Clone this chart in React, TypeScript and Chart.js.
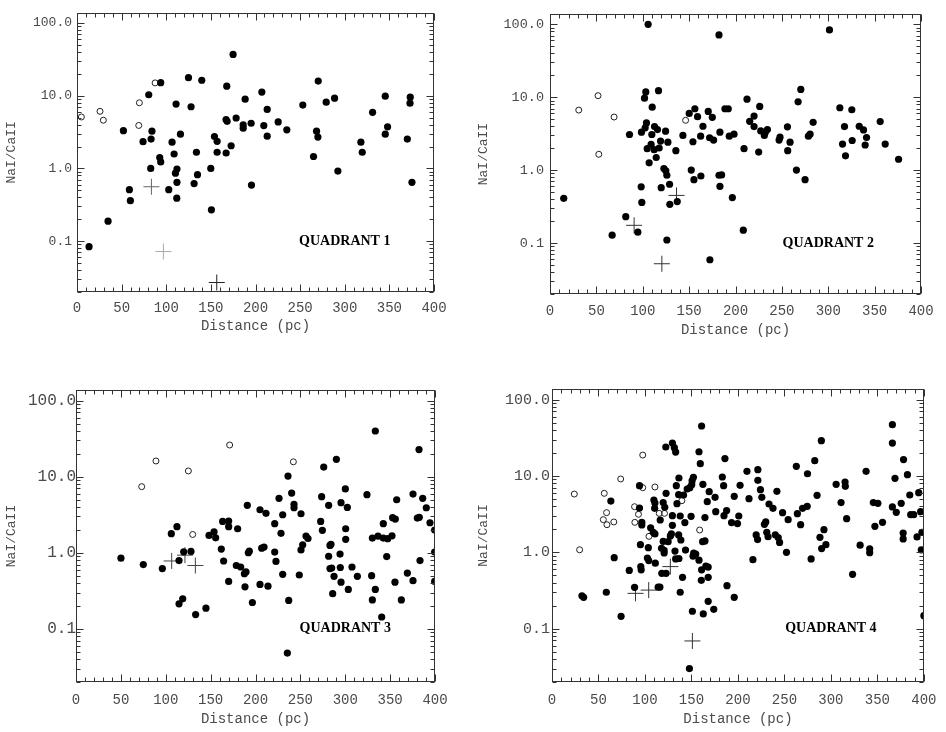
import React, { useEffect, useRef } from 'react';
import { Chart, registerables } from 'chart.js';
Chart.register(...registerables);

type Pt = [number, number];

// ---- Quadrant 1 ----
const q1Filled: Pt[] = [
  [13.5, 0.084], [34.8, 0.188], [52, 3.3], [58.7, 0.51], [59.8, 0.36], [74, 2.33], [80.4, 10.3], [83, 2.53], [84, 3.25], [82.6, 1.0],
  [93.8, 15.1], [92.7, 1.41], [93.8, 1.23], [106.5, 2.3], [108.8, 1.58], [111, 7.66], [110.3, 0.86], [112, 0.98], [112, 0.645], [111.8, 0.39],
  [102.8, 0.51], [115.9, 2.96], [124.9, 17.7], [127.8, 7.05], [131.2, 0.62], [133.8, 1.67], [135, 0.82], [139.8, 16.3], [149.9, 1.0], [150.6, 0.27],
  [154, 2.75], [157, 2.36], [157, 1.67], [167.1, 1.63], [167.8, 13.5], [167, 4.7], [168.2, 4.45], [172.7, 2.05], [174.9, 37], [178.3, 4.94],
  [186.2, 3.97], [186.2, 3.58], [188.4, 8.96], [195.1, 4.18], [195.5, 0.59], [207.1, 11.2], [209.3, 3.89], [213.1, 6.48], [213.1, 2.78], [225.4, 4.36],
  [235.1, 3.4], [253, 7.43], [265, 1.46], [268.4, 3.25], [269.9, 2.7], [270.3, 15.9], [279.2, 8.16], [288.6, 9.25], [292.3, 0.92], [318.1, 2.3],
  [319.6, 1.67], [331.2, 5.9], [345.4, 2.96], [345.4, 9.85], [348, 3.73], [370.1, 2.53], [373.4, 9.55], [373.1, 7.9], [375.3, 0.645],
];
const q1Open: Pt[] = [[4.9, 5.1], [25.8, 6.1], [29.5, 4.6], [69.9, 8.0], [69.2, 3.9], [87.5, 15.0]];
const q1Cross: Pt[] = [[83.4, 0.56], [96.8, 0.072], [156.6, 0.027]];

// ---- Quadrant 2 ----
const q2Filled: Pt[] = [
  [14.8, 0.41], [67, 0.128], [81.7, 0.23], [85.7, 3.08], [94.7, 0.141], [98.3, 0.59], [99, 0.36], [98.6, 3.31], [101.9, 9.7], [103.3, 11.8],
  [104, 4.44], [102.6, 3.8], [105.8, 100], [104.8, 1.97], [106.9, 1.26], [109, 2.25], [110.2, 7.3], [109.8, 3.08], [112.7, 3.96], [112.3, 1.91],
  [114.5, 1.49], [115.9, 3.6], [117, 12.3], [117.7, 2.01], [119.2, 2.5], [119.9, 0.575], [122.8, 1.05], [124.6, 3.42], [124.9, 0.98], [126, 0.85],
  [126, 0.11], [127.1, 2.42], [128.9, 0.64], [129.2, 0.34], [135.7, 1.85], [137.2, 0.37], [143.3, 2.99], [150.1, 6.0], [152.3, 1.0], [154.1, 2.45],
  [155.2, 0.74], [156.2, 6.95], [159.1, 5.41], [162.4, 2.92], [162.7, 0.83], [164.9, 4.0], [170.6, 6.39], [172.1, 2.78], [172.4, 0.059], [175, 5.3],
  [176.4, 2.58], [182.2, 71.6], [183.2, 3.31], [182.2, 0.85], [185, 0.86], [183.2, 0.6], [188.6, 6.95], [192.2, 6.95], [193.3, 2.92], [196.6, 0.42],
  [198.4, 3.11], [208.4, 0.15], [209.2, 1.97], [212.4, 9.4], [215.3, 4.67], [220, 5.52], [220, 3.96], [225, 1.77], [226.1, 7.47], [227.2, 3.45],
  [231.1, 2.99], [232.2, 3.31], [234.4, 3.6], [247, 2.58], [248, 2.83], [256, 3.92], [256.3, 1.85], [258.8, 2.42], [265.7, 1.0], [267.5, 8.64],
  [270.4, 12.8], [275, 0.74], [278.6, 2.92], [280.4, 3.11], [283.7, 4.53], [301.3, 83.8], [312.5, 7.17], [315.4, 2.28], [317.5, 3.96], [318.6, 1.57],
  [325.4, 6.73], [325.8, 2.55], [333.4, 4.0], [338, 3.56], [339.8, 2.21], [341.3, 2.8], [356, 4.63], [361.4, 2.28], [375.8, 1.41],
];
const q2Open: Pt[] = [[31, 6.66], [51.8, 10.5], [52.6, 1.65], [69.1, 5.35], [146.2, 4.82]];
const q2Cross: Pt[] = [[90.7, 0.175], [136.4, 0.45], [120.6, 0.052]];

// ---- Quadrant 3 ----
const q3Filled: Pt[] = [
  [50.1, 0.85], [75, 0.7], [96.2, 0.62], [106.2, 1.78], [112.5, 2.2], [114.8, 0.79], [114.8, 0.213], [118.9, 0.248], [120, 1.03], [128.1, 1.04],
  [133.3, 0.154], [144.8, 0.187], [148.2, 1.69], [153.8, 1.89], [155.6, 1.57], [161.9, 1.12], [163.4, 2.58], [164.5, 0.78], [170.1, 2.61], [170.1, 2.2],
  [170.1, 0.42], [180.1, 2.07], [178.6, 0.68], [183.5, 0.65], [187.6, 0.53], [189.4, 0.56], [188.3, 0.357], [190.9, 4.2], [192, 1.0], [193.1, 1.05],
  [196.5, 0.222], [205, 3.68], [205, 0.383], [206.9, 1.15], [209.5, 1.19], [211.7, 3.3], [213.9, 0.364], [221.4, 1.02], [221.4, 2.41], [222.8, 0.77],
  [226.2, 5.19], [228.4, 1.8], [230.3, 3.16], [230.3, 0.52], [236.2, 10.2], [237, 0.236], [235.5, 0.048], [240.3, 6.1], [242.9, 4.33], [242.9, 3.91],
  [250.7, 3.26], [250.7, 1.09], [248.8, 0.51], [252.6, 1.27], [256.3, 1.66], [258.5, 1.54], [272.6, 2.58], [273.7, 5.46], [274.5, 1.97], [276, 13.4],
  [281.5, 4.2], [281.5, 0.9], [283, 1.25], [284.1, 1.29], [283, 0.62], [284.9, 0.63], [286, 0.29], [287.5, 0.49], [290.1, 16.9], [294.2, 0.96],
  [294.5, 0.64], [295.3, 4.55], [295.3, 0.41], [300.1, 6.9], [300.5, 2.07], [300.5, 1.5], [302.3, 3.95], [303.4, 0.33], [307.5, 0.65], [313.5, 0.49],
  [324.2, 5.8], [329.4, 0.5], [330.2, 1.56], [330.2, 0.24], [333.5, 39.9], [333.5, 0.33], [336.5, 1.66], [340.6, 0.143], [342.4, 2.41], [342.4, 1.56],
  [346.2, 0.89], [347.3, 1.53], [352.1, 1.67], [352.8, 2.89], [355.8, 2.77], [355.4, 0.41], [357.3, 4.98], [362.5, 0.24], [369.2, 0.54], [375.5, 5.91],
  [375.5, 0.43], [380.3, 2.86], [382.2, 22.7], [382.5, 2.92], [383.3, 0.79], [386.3, 5.19], [390.3, 3.91], [394.4, 2.48], [399.6, 1.99], [399.6, 1.02],
  [399.6, 0.42],
];
const q3Open: Pt[] = [[73.2, 7.4], [89.1, 16.1], [125.2, 11.9], [130, 1.74], [171.2, 26.1], [242.2, 15.7]];
const q3Cross: Pt[] = [[106.6, 0.78], [121.4, 0.93], [133, 0.68]];

// ---- Quadrant 4 ----
const q4Filled: Pt[] = [
  [32.2, 0.27], [34, 0.257], [58.4, 0.3], [63.3, 4.7], [66.9, 0.85], [74.3, 0.145], [83.1, 0.58], [88.8, 0.348], [94.1, 7.47], [94.1, 3.81],
  [95.1, 1.26], [95.5, 0.65], [95.9, 0.59], [96.6, 2.47], [96.6, 2.28], [103.6, 1.15], [102.6, 0.84], [104, 0.78], [106.1, 2.1], [108.9, 1.83],
  [109.6, 4.85], [110.7, 4.43], [110.4, 3.77], [110.7, 1.74], [111.1, 0.72], [114.2, 0.35], [116, 0.35], [116.4, 2.65], [117.8, 1.13], [118.1, 0.53],
  [119.6, 4.48], [119.6, 1.39], [120.6, 1.06], [120.6, 0.98], [121.3, 3.89], [122.7, 5.93], [122.4, 24], [122.7, 0.53], [124.9, 1.38], [127.3, 1.64],
  [128.4, 1.74], [129.5, 27], [129.5, 3.02], [129.5, 2.26], [131.6, 23.5], [133, 20.6], [132.3, 1.04], [133.7, 7.47], [133, 0.82], [134.4, 4.34],
  [136.5, 9.42], [136.2, 5.7], [136.2, 1.69], [136.5, 0.83], [137.9, 2.99], [137.9, 0.3], [138.6, 1.45], [140.4, 0.47], [141.5, 5.64], [142.9, 2.45],
  [143.6, 1.07], [145.4, 6.76], [148.2, 7.03], [149.6, 2.96], [150.3, 7.7], [150.7, 8.69], [152.1, 9.6], [151, 0.169], [151.7, 0.89], [152.4, 0.98],
  [147.8, 0.03], [154.6, 0.95], [158.1, 0.79], [158.1, 20.8], [159.5, 14.5], [160.9, 45.2], [160.6, 0.43], [160.9, 0.59], [162.3, 7.78], [162, 1.38],
  [162.7, 0.156], [164.5, 1.41], [164.5, 2.85], [165.5, 0.66], [167, 4.61], [168, 0.64], [168, 0.47], [168, 0.228], [169.1, 6.24], [174, 0.179],
  [175.4, 5.25], [176.1, 3.41], [183.2, 9.7], [184.6, 7.47], [185, 3.02], [186, 16.9], [187.8, 3.52], [188.2, 0.366], [193.1, 2.45], [196, 5.42],
  [196, 0.257], [199.5, 2.38], [200.9, 2.99], [202.3, 7.55], [209.7, 11.5], [211.9, 5.05], [216.1, 0.8], [219.6, 1.69], [221.1, 1.47], [221.4, 12.1],
  [221.4, 8.77], [224.2, 6.62], [225.7, 5.25], [228.5, 2.33], [229.9, 2.5], [231, 1.83], [232.4, 1.6], [233.4, 4.3], [237.7, 3.77], [241.9, 6.3],
  [240.2, 1.7], [243.3, 1.56], [244.8, 1.35], [248, 3.31], [252.2, 1.0], [254, 2.68], [262.8, 13.4], [263.9, 3.21], [267.4, 2.3], [269.5, 3.77],
  [274.5, 4.0], [274.8, 10.7], [278.7, 0.82], [282.6, 15.9], [285.1, 5.58], [288.2, 1.57], [289.7, 29], [290, 1.12], [292.5, 1.98], [294.6, 1.26],
  [305.6, 7.78], [310.9, 4.48], [315.2, 8.34], [315.5, 7.33], [316.9, 2.76], [323.3, 0.515], [331.4, 1.24], [337.8, 11.5], [341.7, 1.11], [341.7, 0.99],
  [345.6, 4.48], [347.3, 2.19], [350.5, 4.38], [355.5, 2.47], [366.1, 47], [366.1, 27], [366.1, 3.93], [368.9, 9.32], [370.3, 3.34], [375.6, 4.38],
  [378.1, 16.4], [377.7, 1.79], [377.7, 1.5], [382.3, 10.4], [384.8, 5.64], [385.8, 3.11], [389, 3.11], [392.6, 1.59], [394.4, 6.05], [396.5, 3.41],
  [397.2, 1.08], [397.9, 1.83], [400, 0.148],
];
const q4Open: Pt[] = [
  [24, 5.8], [29.7, 1.08], [56.2, 5.93], [55.2, 2.68], [58.7, 3.31], [59.1, 2.3], [66.5, 2.5], [73.9, 9.14], [88.8, 3.96], [89.1, 2.47],
  [93, 3.15], [97.6, 18.8], [97.6, 7.03], [104.3, 1.62], [110.7, 7.18], [115.3, 3.24], [121, 3.24], [139.7, 4.75], [158.8, 1.96],
];
const q4Cross: Pt[] = [[89.8, 0.29], [104, 0.32], [127.3, 0.65], [151, 0.069]];

// ---- axes ----
const distanceTicks = [0, 50, 100, 150, 200, 250, 300, 350, 400];
const ratioTicks = [0.1, 1, 10, 100];
const ratioTickLabels = ['0.1', '1.0', '10.0', '100.0'];
const xTitle = 'Distance (pc)';
const yTitle = 'NaI/CaII';
const quadrantNames = ['QUADRANT 1', 'QUADRANT 2', 'QUADRANT 3', 'QUADRANT 4'];
const X_MIN = 0, X_MAX = 400, Y_MIN = 0.02, Y_MAX = 138;

interface Panel {
  filled: Pt[]; open: Pt[]; cross: Pt[]; crossColors: string[]; name: string;
  left: number; top: number; L: number; R: number; T: number; B: number;
  yTickSize: number; yTickPad: number; xTickPad: number; xTitlePad: number; yTitlePad: number;
}

const panels: Panel[] = [
  { filled: q1Filled, open: q1Open, cross: q1Cross, crossColors: ['#666', '#aaa', '#222'], name: quadrantNames[0],
    left: 0, top: 0, L: 77, R: 39, T: 11, B: 74, yTickSize: 13, yTickPad: 5, xTickPad: 8, xTitlePad: 31.5, yTitlePad: 4 },
  { filled: q2Filled, open: q2Open, cross: q2Cross, crossColors: ['#333', '#333', '#333'], name: quadrantNames[1],
    left: 473, top: 0, L: 77, R: 25, T: 12, B: 72, yTickSize: 13.5, yTickPad: 6, xTickPad: 9, xTitlePad: 27.5, yTitlePad: 3 },
  { filled: q3Filled, open: q3Open, cross: q3Cross, crossColors: ['#444', '#444', '#444'], name: quadrantNames[2],
    left: 0, top: 366, L: 76, R: 38, T: 24, B: 50, yTickSize: 16, yTickPad: 0, xTickPad: 9.5, xTitlePad: 4.3, yTitlePad: 4 },
  { filled: q4Filled, open: q4Open, cross: q4Cross, crossColors: ['#333', '#333', '#333', '#333'], name: quadrantNames[3],
    left: 473, top: 366, L: 79, R: 17, T: 23, B: 50, yTickSize: 15, yTickPad: 2, xTickPad: 9.5, xTitlePad: 4.6, yTitlePad: 3 },
];

const W = 473, H = 366;
const textGray = '#4a4a4a';

const frameTicksPlugin = {
  id: 'frameTicks',
  afterDatasetsDraw(chart: any, _args: any, opts: any) {
    const { ctx, chartArea } = chart;
    const x = chart.scales.x, y = chart.scales.y;
    const l = Math.round(chartArea.left) + 0.5, r = Math.round(chartArea.right) - 0.5;
    const t = Math.round(chartArea.top) + 0.5, b = Math.round(chartArea.bottom) - 0.5;
    ctx.save();
    ctx.strokeStyle = '#333';
    ctx.lineWidth = 1;
    ctx.strokeRect(l, t, r - l, b - t);
    ctx.beginPath();
    for (let v = X_MIN; v <= X_MAX; v += 10) {
      const px = Math.round(x.getPixelForValue(v)) + 0.5;
      const len = v % 50 === 0 ? 7 : 4;
      ctx.moveTo(px, b); ctx.lineTo(px, b - len);
      ctx.moveTo(px, t); ctx.lineTo(px, t + len);
    }
    for (let e = -2; e <= 2; e++) {
      for (let k = 1; k <= 9; k++) {
        const v = k * Math.pow(10, e);
        if (v < Y_MIN || v > Y_MAX) continue;
        const py = Math.round(y.getPixelForValue(v)) + 0.5;
        const len = k === 1 ? 7 : 4;
        ctx.moveTo(l, py); ctx.lineTo(l + len, py);
        ctx.moveTo(r, py); ctx.lineTo(r - len, py);
      }
    }
    ctx.stroke();
    ctx.fillStyle = '#000';
    ctx.font = 'bold 14px "Liberation Serif", "Times New Roman", serif';
    ctx.textAlign = 'center';
    ctx.textBaseline = 'middle';
    ctx.fillText(opts.label, x.getPixelForValue(300), y.getPixelForValue(0.1));
    ctx.restore();
  },
};

function PanelChart({ p }: { p: Panel }) {
  const ref = useRef<HTMLCanvasElement>(null);
  useEffect(() => {
    if (!ref.current) return;
    const hiddenGrid = { display: false, drawTicks: false };
    const chart = new Chart(ref.current, {
      type: 'scatter',
      data: {
        datasets: [
          {
            data: p.filled.map(([d, r]) => ({ x: d, y: r })),
            pointRadius: 3.6, pointBackgroundColor: '#000', pointBorderColor: '#000', pointBorderWidth: 0,
            pointHoverRadius: 3.6, clip: 0,
          },
          {
            data: p.open.map(([d, r]) => ({ x: d, y: r })),
            pointRadius: 3, pointBackgroundColor: 'rgba(255,255,255,0)', pointBorderColor: '#222', pointBorderWidth: 1,
            clip: 0,
          },
          {
            data: p.cross.map(([d, r]) => ({ x: d, y: r })),
            pointStyle: 'cross', pointRadius: 8, pointBorderColor: p.crossColors, pointBorderWidth: 1,
            clip: 0,
          },
        ],
      } as any,
      options: {
        animation: false,
        responsive: false,
        devicePixelRatio: 1,
        events: [],
        layout: { padding: 0 },
        plugins: { legend: { display: false }, tooltip: { enabled: false }, frameTicks: { label: p.name } } as any,
        scales: {
          x: {
            type: 'linear', position: 'bottom', min: X_MIN, max: X_MAX,
            afterBuildTicks: (s: any) => { s.ticks = distanceTicks.map((v) => ({ value: v })); },
            ticks: { callback: (v: any) => String(v), font: { family: 'Liberation Mono', size: 14 }, color: textGray, padding: p.xTickPad, maxRotation: 0, autoSkip: false },
            grid: hiddenGrid, border: { display: false },
            title: { display: true, text: xTitle, font: { family: 'Liberation Mono', size: 14 }, color: textGray, padding: { top: 0, bottom: p.xTitlePad } },
            afterFit: (s: any) => { s.height = p.B; },
          },
          x2: {
            type: 'linear', position: 'top', min: X_MIN, max: X_MAX,
            ticks: { display: false }, grid: hiddenGrid, border: { display: false },
            afterFit: (s: any) => { s.height = p.T; },
          },
          y: {
            type: 'logarithmic', position: 'left', min: Y_MIN, max: Y_MAX,
            afterBuildTicks: (s: any) => { s.ticks = ratioTicks.map((v) => ({ value: v })); },
            ticks: {
              callback: (v: any) => { const i = ratioTicks.indexOf(Number(v)); return i >= 0 ? ratioTickLabels[i] : ''; },
              font: { family: 'Liberation Mono', size: p.yTickSize }, color: textGray, padding: p.yTickPad, autoSkip: false,
            },
            grid: hiddenGrid, border: { display: false },
            title: { display: true, text: yTitle, font: { family: 'Liberation Mono', size: 13 }, color: textGray, padding: { top: p.yTitlePad, bottom: 0 } },
            afterFit: (s: any) => { s.width = p.L; },
          },
          y2: {
            type: 'logarithmic', position: 'right', min: Y_MIN, max: Y_MAX,
            ticks: { display: false }, grid: hiddenGrid, border: { display: false },
            afterFit: (s: any) => { s.width = p.R; },
          },
        },
      } as any,
      plugins: [frameTicksPlugin],
    });
    return () => chart.destroy();
  }, [p]);
  return (
    <canvas ref={ref} width={W} height={H}
      style={{ position: 'absolute', left: p.left, top: p.top, width: W, height: H }} />
  );
}

export default function App() {
  return (
    <div style={{ position: 'absolute', left: 0, top: 0, width: 946, height: 732, background: '#fff' }}>
      {panels.map((p, i) => <PanelChart key={i} p={p} />)}
    </div>
  );
}
